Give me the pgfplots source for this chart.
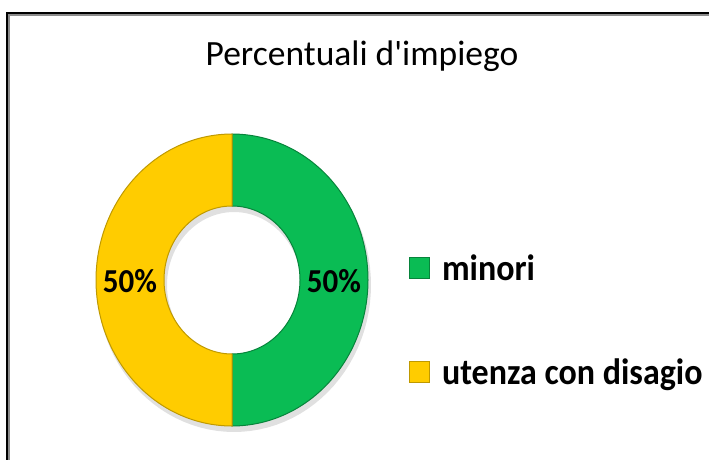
\documentclass[border=0pt]{standalone}
\usepackage{pgfplots}
\pgfplotsset{compat=1.18}
\usepackage{pgfplotstable}
\usepackage{fontspec}
\setmainfont{Carlito}[Ligatures=TeXOff]
\definecolor{cgreen}{RGB}{10,188,84}
\definecolor{cyellow}{RGB}{255,204,0}

\pgfplotstableread{
label value
minori 50
utenza 50
}\datatable

\def\cx{232}\def\cy{179}\def\Rx{136}\def\Ry{146}\def\rx{68}\def\ry{74}
\newcommand{\tall}[1]{\scalebox{1}[1.08]{#1}}

\begin{document}
\begin{tikzpicture}
\pgfplotstablegetelem{0}{value}\of\datatable \let\va\pgfplotsretval
\pgfplotstablegetelem{1}{value}\of\datatable \let\vb\pgfplotsretval
\pgfmathsetmacro{\total}{\va+\vb}
\pgfmathsetmacro{\fa}{\va/\total}
\pgfmathsetmacro{\fb}{\vb/\total}
\pgfmathsetmacro{\aA}{90}
\pgfmathsetmacro{\aB}{90-360*\fa}
\pgfmathsetmacro{\aC}{\aB-360*\fb}
\pgfmathsetmacro{\pa}{100*\fa}
\pgfmathsetmacro{\pb}{100*\fb}
\pgfmathsetmacro{\mA}{(\aA+\aB)/2}
\pgfmathsetmacro{\mB}{(\aB+\aC)/2}
\clip (0,0) rectangle (709pt,459pt);
\begin{axis}[at={(0,0)}, anchor=south west, scale only axis,
  width=709pt, height=459pt, xmin=0, xmax=709, ymin=0, ymax=459,
  hide axis, clip=false,
  legend cell align=left,
  legend image code/.code={\fill[#1] (0pt,-6pt) rectangle (20pt,15pt);},
  legend style={at={(axis cs:409,203)}, anchor=north west, draw=none, fill=none,
    inner sep=0pt, outer sep=0pt, row sep=72pt,
    font=\fontsize{34}{40}\selectfont\bfseries,
    nodes={inner sep=0pt, text height=24pt, text depth=8pt},
    /tikz/every odd column/.append style={column sep=12pt}},
]
% shadow
\addplot[forget plot, fill=black, opacity=0.12, draw=none, samples at={0,...,201}, variable=\t]
 ({\cx+2 + (\t<100.5 ? (\Rx+1)*cos(3.6*\t) : (\rx-1)*cos(-3.6*(\t-101)))},
  {\cy-5 + (\t<100.5 ? (\Ry+1)*sin(3.6*\t) : (\ry-1)*sin(-3.6*(\t-101)))}) -- cycle;
% minori
\addplot[fill=cgreen, draw=cgreen!70!black, line width=1pt, samples at={0,...,201}, variable=\t]
 ({\cx + (\t<100.5 ? \Rx*cos(\aA+(\aB-\aA)*\t/100) : \rx*cos(\aB-(\aB-\aA)*(\t-101)/100))},
  {\cy + (\t<100.5 ? \Ry*sin(\aA+(\aB-\aA)*\t/100) : \ry*sin(\aB-(\aB-\aA)*(\t-101)/100))}) -- cycle;
\addlegendentry{\tall{minori}}
% utenza con disagio
\addplot[fill=cyellow, draw=cyellow!75!black, line width=1pt, samples at={0,...,201}, variable=\t]
 ({\cx + (\t<100.5 ? \Rx*cos(\aB+(\aC-\aB)*\t/100) : \rx*cos(\aC-(\aC-\aB)*(\t-101)/100))},
  {\cy + (\t<100.5 ? \Ry*sin(\aB+(\aC-\aB)*\t/100) : \ry*sin(\aC-(\aC-\aB)*(\t-101)/100))}) -- cycle;
\addlegendentry{\tall{utenza con disagio}}
% labels
\node[anchor=base, font=\fontsize{31}{36}\selectfont\bfseries, inner sep=0pt]
  at (axis cs:{\cx+102*cos(\mA)},167) {\tall{\pgfmathprintnumber[fixed,precision=0,assume math mode=true]{\pa}\%}};
\node[anchor=base, font=\fontsize{31}{36}\selectfont\bfseries, inner sep=0pt]
  at (axis cs:{\cx+102*cos(\mB)},167) {\tall{\pgfmathprintnumber[fixed,precision=0,assume math mode=true]{\pb}\%}};
% title
\node[anchor=base, font=\fontsize{35.5}{40}\selectfont, inner sep=0pt]
  at (axis cs:362,394) {Percentuali d'impiego};
% frame
\draw[black!45, line width=2pt] (axis cs:9,-5) -- (axis cs:9,444) -- (axis cs:720,444);
\draw[black, line width=2pt] (axis cs:7,-5) -- (axis cs:7,446) -- (axis cs:720,446);
\end{axis}
\end{tikzpicture}
\end{document}
